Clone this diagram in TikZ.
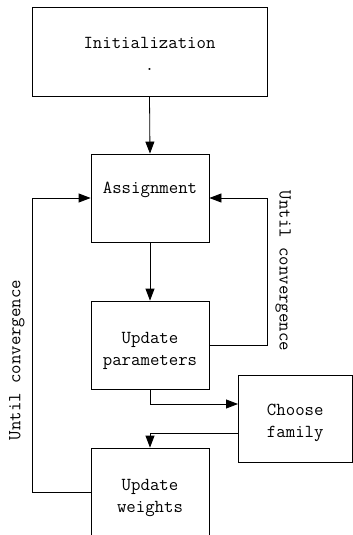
\documentclass[tikz,border=0pt]{standalone}
\usetikzlibrary{arrows.meta}
\begin{document}
\begin{tikzpicture}[x=1pt,y=-1pt,
  box/.style={draw,line width=0.8pt,inner sep=0pt},
  txt/.style={inner sep=0pt,align=center,font=\ttfamily\fontsize{18.3}{22}\selectfont},
  lbl/.style={inner sep=0pt,font=\ttfamily\fontsize{18.3}{22}\selectfont},
  conn/.style={line width=0.8pt,-{Triangle[length=12pt,width=9pt]}}]
\useasboundingbox (0,0) rectangle (353,535);
\clip (0,0) rectangle (353,535);
\node[box,minimum width=235pt,minimum height=89pt] (init) at (149.5,51.5) {};
\node[box,minimum width=118pt,minimum height=88pt] (assign) at (150,198) {};
\node[box,minimum width=118pt,minimum height=88pt] (upd) at (150,345) {};
\node[box,minimum width=114.5pt,minimum height=87pt] (choose) at (295.25,418.5) {};
\node[box,minimum width=118pt,minimum height=88pt] (weights) at (150,492) {};
\node[txt] (initT) at (149.5,53.5) {Initialization\\.};
\node[txt] (assignT) at (150,190) {Assignment};
\node[txt] (updT) at (150,351) {Update\\parameters};
\node[txt] (chooseT) at (295.25,422.5) {Choose\\family};
\node[txt] (weightsT) at (150,498) {Update\\weights};
\coordinate (r) at (267,345);
\coordinate (l) at (32,492);
\coordinate (c1) at (238,404);
\coordinate (c2) at (238,433);
\draw[conn] (init.south) -- (assign.north);
\draw[conn] (assign.south) -- (upd.north);
\draw[conn] (upd.east) -- (r) |- (assign.east);
\draw[conn] (weights.west) -- (l) |- (assign.west);
\draw[conn] (upd.south) |- (c1);
\draw[conn] (c2) -| (weights.north);
\node[lbl,rotate=-90] (rl) at (283,271) {Until convergence};
\node[lbl,rotate=90] (ll) at (17,360) {Until convergence};
\end{tikzpicture}
\end{document}
